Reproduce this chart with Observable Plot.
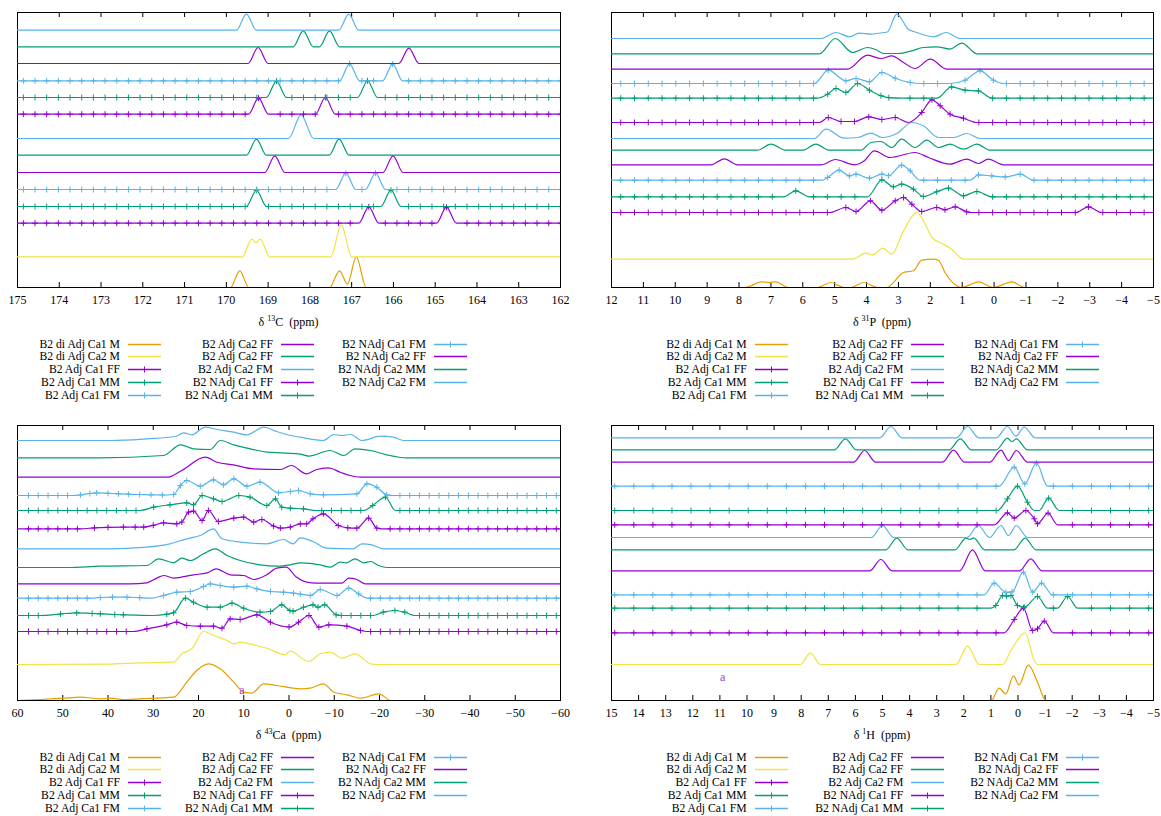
<!DOCTYPE html>
<html><head><meta charset="utf-8">
<script src="https://cdn.jsdelivr.net/npm/d3@7"></script>
<script src="https://cdn.jsdelivr.net/npm/@observablehq/plot@0.6"></script>
<style>
body{margin:0;background:#fff;font-family:"Liberation Serif","Times New Roman",serif;}
#page{position:relative;width:1161px;height:816px;overflow:hidden;background:#fff;}
.pl{position:absolute;}
.lgt{position:absolute;font-size:11.7px;line-height:13px;white-space:nowrap;color:#000;text-align:right;width:220px;}
.lgs{position:absolute;}
.ax{position:absolute;font-size:12px;line-height:14px;white-space:pre;text-align:center;width:300px;color:#000;}
.ax sup{font-size:8px;vertical-align:5px;line-height:0;}
</style></head><body><div id="page"></div>
<script>
// ---------- series (legend order) ----------
const seriesNames = ["B2 di Adj Ca1 M","B2 di Adj Ca2 M","B2 Adj Ca1 FF","B2 Adj Ca1 MM","B2 Adj Ca1 FM",
  "B2 Adj Ca2 FF","B2 Adj Ca2 FF","B2 Adj Ca2 FM","B2 NAdj Ca1 FF","B2 NAdj Ca1 MM","B2 NAdj Ca1 FM",
  "B2 NAdj Ca2 FF","B2 NAdj Ca2 MM","B2 NAdj Ca2 FM"];

// ---------- 13C ----------
const C13_ticks = [175,174,173,172,171,170,169,168,167,166,165,164,163,162];
const C13_offsets = [0,30.7,64.3,81,98,115,132.3,149,173.3,190,206.7,224,240.7,257.3];
const C13_spectra = [
 [[175,0],[169.9,0],[169.68,16.7],[169.46,0],[167.53,0],[167.29,16.7],[167.1,3.3],[166.89,30.7],[166.65,0],[162,0]],
 [[175,0],[169.62,0],[169.39,17.7],[169.29,14.3],[169.19,17.7],[168.96,0],[167.5,0],[167.25,32],[167.0,0],[162,0]],
 [[175,0],[166.83,0],[166.59,16.3],[166.35,0],[164.97,0],[164.73,16],[164.49,0],[162,0]],
 [[175,0],[169.52,0],[169.28,16.3],[169.04,0],[166.3,0],[166.06,16.3],[165.82,0],[162,0]],
 [[175,0],[167.38,0],[167.14,16.3],[166.9,0],[166.67,0],[166.43,16.3],[166.19,0],[162,0]],
 [[175,0],[169.08,0],[168.84,16.7],[168.6,0],[166.25,0],[166.01,16.7],[165.77,0],[162,0]],
 [[175,0],[169.52,0],[169.28,16],[169.04,0],[167.54,0],[167.3,16],[167.06,0],[162,0]],
 [[175,0],[168.51,0],[168.21,23.7],[167.91,0],[162,0]],
 [[175,0],[169.47,0],[169.23,16],[168.99,0],[167.87,0],[167.63,16.7],[167.39,0],[162,0]],
 [[175,0],[169.04,0],[168.8,16.3],[168.56,0],[166.86,0],[166.62,16.7],[166.38,0],[162,0]],
 [[175,0],[167.29,0],[167.05,17],[166.81,0],[166.26,0],[166.02,16.7],[165.78,0],[162,0]],
 [[175,0],[169.48,0],[169.24,16],[169.0,0],[165.87,0],[165.63,15.3],[165.39,0],[162,0]],
 [[175,0],[168.4,0],[168.16,16],[167.92,0],[167.77,0],[167.53,16],[167.29,0],[162,0]],
 [[175,0],[169.76,0],[169.52,16],[169.28,0],[167.31,0],[167.07,16],[166.83,0],[162,0]]
];

// ---------- 31P ----------
const P31_ticks = [12,11,10,9,8,7,6,5,4,3,2,1,0,-1,-2,-3,-4,-5];
const P31_offsets = [0,28.3,75,90.7,107.3,122.7,137.3,149,165,189.3,204,218.3,233.7,249];
const P31_spectra = [
 [[12,0],[7.8,0],[7.3,5.7],[7.05,5],[6.85,5.7],[6.45,0],[5.54,0],[5.12,5],[4.7,0],[4.5,0],[4.09,5],[3.65,0],[3.37,0],[2.84,15],[2.53,16.7],[2.27,27.3],[1.9,28.3],[1.74,27],[1.54,15],[1.17,1.7],[1.01,0],[0.49,5.7],[0.02,0],[-0.56,5.7],[-0.97,0],[-5,0]],
 [[12,0],[4.45,0],[4.02,6],[3.81,4.3],[3.49,11],[3.21,5],[2.84,28.3],[2.42,46.7],[2.16,35],[1.95,21.7],[1.64,15.7],[1.33,10],[1.05,1.5],[0.95,0],[-5,0]],
 [[12,0],[5.15,0],[4.65,5],[4.33,1],[3.88,11.7],[3.52,2.3],[3.1,11.7],[2.84,15],[2.58,8.3],[2.27,1],[1.8,5],[1.54,2.7],[1.22,5.7],[0.86,0.7],[0.7,0],[-2.55,0],[-2.96,5.7],[-3.38,0],[-5,0]],
 [[12,0],[6.6,0],[6.22,6],[5.8,0],[3.97,0],[3.52,17],[3.16,10],[2.9,12.7],[2.53,7.7],[2.22,0.3],[1.8,5],[1.43,8.7],[0.96,1],[0.54,5.3],[0.07,0],[-5,0]],
 [[12,0],[5.38,0],[5.22,2.7],[4.86,10],[4.54,4.3],[4.33,6],[3.91,2],[3.52,6],[3.31,4.5],[2.9,15],[2.63,9.3],[2.32,0],[0.75,0],[0.49,5.3],[0.07,4.3],[-0.35,3.3],[-0.82,6],[-1.24,0],[-5,0]],
 [[12,0],[8.88,0],[8.46,6],[8.05,0],[5.43,0],[4.98,5.3],[4.38,0],[4.07,4],[3.76,14],[3.26,7.3],[2.48,12.3],[2.06,7.3],[1.38,0.7],[0.86,5.7],[0.49,1.3],[0.18,5.7],[-0.3,0],[-5,0]],
 [[12,0],[7.42,0],[7.0,6],[6.53,0],[6.0,0],[5.59,6],[5.17,0],[4.18,0],[3.86,7.7],[3.55,8.7],[3.21,2.7],[2.9,11],[2.48,2.7],[2.11,10],[1.74,2.7],[1.38,6],[0.96,1],[0.54,6],[0.12,0],[-5,0]],
 [[12,0],[5.64,0],[5.27,9.3],[4.7,0.3],[4.28,1],[3.86,5.3],[3.52,1],[3.05,5],[2.58,16],[2.22,12.7],[1.74,1],[1.27,1],[0.86,5],[0.44,0],[-5,0]],
 [[12,0],[5.48,0],[5.2,5],[4.8,1],[4.38,1],[3.93,5.7],[3.52,3],[3.1,5],[2.69,0],[2.27,10],[1.95,22.7],[1.69,16.7],[1.38,8.3],[0.96,4.3],[0.54,0],[-5,0]],
 [[12,0],[5.54,0],[5.22,4],[4.96,9.7],[4.65,5.7],[4.28,14.7],[3.91,8],[3.55,2.5],[3.3,0.5],[2.9,0],[1.8,0],[1.33,11.3],[0.91,8],[0.49,7.3],[0.07,0],[-5,0]],
 [[12,0],[5.64,0],[5.2,13.3],[4.65,2.7],[4.33,5],[3.91,1.7],[3.52,11],[3.1,5.3],[2.63,1],[2.3,0],[1.38,0],[0.91,3.3],[0.44,12.7],[0.02,3.3],[-0.3,0],[-5,0]],
 [[12,0],[4.6,0],[3.97,14],[3.55,10.7],[3.21,13.3],[2.84,6.7],[2.48,0.7],[2.0,10],[1.48,0],[-5,0]],
 [[12,0],[5.48,0],[4.98,15.3],[4.44,1.3],[3.97,6.3],[3.7,4],[3.47,0.3],[3.0,0.3],[2.58,3],[2.22,6.3],[1.8,7],[1.38,4.7],[1.01,10.7],[0.54,0],[-5,0]],
 [[12,0],[5.43,0],[4.96,6],[4.54,1.7],[4.23,5.3],[3.86,4.3],[3.58,5.5],[3.35,6.5],[3.05,24.3],[2.69,9.3],[2.42,6],[1.9,1.7],[1.5,6],[1.07,0],[-5,0]]
];

// ---------- 43Ca ----------
const Ca43_ticks = [60,50,40,30,20,10,0,-10,-20,-30,-40,-50,-60];
const Ca43_offsets = [0,36,69,85,102.3,116.7,133,151.7,171.7,190,205,223.3,242.7,260];
const Ca43_spectra = [
 [[60,0],[55,1],[49.8,2.3],[46.1,3.3],[41.7,1.7],[39.5,2.3],[36.6,1],[32.9,1.7],[25.5,3.3],[22.6,18.3],[20.4,30],[17.8,36.7],[15.2,31.7],[12.2,18.3],[10,8.3],[8.2,7.3],[5.6,16.7],[2.7,15],[-1,12.3],[-2.5,11.7],[-4.7,12.3],[-7.6,16.7],[-9.9,8.3],[-12.8,5.7],[-15.8,2.3],[-19.9,6.7],[-22.5,0],[-60,0]],
 [[60,0],[40.3,0.3],[32.9,1.7],[25.5,2.3],[23.7,10.7],[21.5,15.7],[18.9,33],[16.7,29],[13.7,24],[12.2,20.7],[10.8,22.3],[7.8,19.7],[4.9,16.3],[0.8,9.7],[-0.2,13.3],[-4.4,3],[-6.9,10.7],[-9.1,12.3],[-11.7,6.3],[-14.6,10.7],[-18,0.7],[-19.4,0],[-60,0]],
 [[60,0],[34.4,0],[31.4,2.7],[27,6.7],[24.8,9.3],[22.6,6],[19.6,5.3],[16.7,5.3],[14.8,3.3],[13,12.7],[10.8,12],[7.1,16.7],[4.1,9.3],[0,4.5],[-2.1,9.3],[-4.4,16],[-6.6,4.3],[-8.8,6.7],[-12.8,5.3],[-15.8,1],[-17.2,0],[-60,0]],
 [[60,0],[55,0],[50.5,1.5],[46.9,2.7],[43.5,2],[41.7,1.7],[38.5,1],[36.6,0.7],[29.9,0],[27,1.3],[25.5,2.7],[22.9,17.3],[21.1,13.3],[18.1,8.3],[15.2,8.3],[12.6,12.3],[10,7.3],[6.4,3.3],[4.1,4],[1.6,10.7],[-0.2,5],[-0.9,4.3],[-3.2,8.3],[-5.3,10.7],[-6.4,8.3],[-7.9,10.7],[-10.4,0.7],[-11.5,0],[-18.6,0],[-20.8,3.3],[-23.4,5],[-25.6,3.3],[-27.8,0],[-60,0]],
 [[60,0],[44,0],[41.7,0.7],[39,1],[35.8,1],[33,0.5],[30.7,0],[27.7,2.7],[24.8,6],[21.8,6.7],[18.9,11.7],[17.4,14.3],[15.2,12.7],[12.2,11],[9.3,12],[7.1,9.3],[4.1,6.7],[1.2,6],[-1,5],[-2.5,4],[-4.7,2.7],[-6.9,8.7],[-10.6,2.7],[-13.2,10],[-15.4,4.3],[-17.2,0],[-60,0]],
 [[60,0],[35.1,0],[31.4,1],[29.2,5.7],[27.7,8.3],[25.5,5.7],[21.1,9],[18.1,11],[16.1,15],[13,9],[10,8.3],[7.8,4.3],[4.9,9],[2.7,15.7],[0.6,16.7],[-1.6,6.7],[-3.9,1.7],[-6,0.7],[-11.7,0.7],[-13.2,5.7],[-15,4.3],[-16.8,0],[-60,0]],
 [[60,0],[49,0],[41.7,1.3],[31.4,2],[28.8,8.7],[25.5,4.7],[23.7,9.3],[21.8,7],[18.9,13.7],[16.3,18.7],[13.7,12],[10.8,7],[6.4,2.7],[2.7,1.3],[-0.3,2.7],[-2.5,4.7],[-6.9,2.7],[-9.1,0.3],[-11.3,5.3],[-12.7,4.7],[-14.6,8.7],[-16.5,4.7],[-18.1,6],[-19.8,2],[-21.6,0],[-60,0]],
 [[60,0],[40,0],[31.4,1.7],[26.3,5],[22.6,10],[19.6,13.3],[16.7,20],[14.8,10],[10.8,6.7],[4.9,5],[1.2,9.3],[-0.9,5],[-2.5,11],[-5.3,7.3],[-8.3,0.7],[-14.2,0],[-16.1,5],[-18.3,4],[-20.9,0],[-60,0]],
 [[60,0],[46,0],[43,1],[40,1.5],[36.6,1.7],[34,1.7],[32.1,1.7],[30,3.5],[27.7,6],[24.8,5],[23.7,6.7],[22.2,16.7],[21.1,17.7],[19.2,8.3],[17.8,18.3],[15.6,7.3],[12.2,10.7],[10,11.7],[7.8,6.7],[6,9.3],[3.4,2.7],[1.9,0.7],[-0.3,1.7],[-2.5,5],[-3.9,5],[-5.3,10],[-7.6,15],[-10.9,3.3],[-13,1],[-15,0.7],[-17.6,10.7],[-19.4,0.7],[-20.5,0],[-60,0]],
 [[60,0],[32.9,0],[29.9,3.3],[26.3,5.7],[22.6,7.7],[21.1,5.7],[19.2,15],[16.7,11.7],[14.8,9],[11.1,15],[8.6,13.3],[4.9,5],[3,11.7],[1.6,3.3],[-0.3,2.3],[-3.2,1.7],[-6,0],[-16.5,0],[-18.5,5],[-21.3,13.3],[-23.5,0],[-60,0]],
 [[60,0],[48,0],[46.1,0.5],[44,2],[42.5,2.7],[40,2.2],[37.7,1.7],[35.5,1.3],[33,1],[30.5,0.7],[28,0.5],[25.5,1],[24,10],[22.6,15],[19.6,9.3],[16.7,15.7],[14.5,10.7],[12.2,16.7],[9.3,9.3],[6.4,13.3],[2.3,2.7],[-0.3,4],[-2.1,5],[-4.7,1.7],[-7.6,0.7],[-15,1.7],[-17.2,11.7],[-19.4,8.3],[-21.6,0.7],[-23.1,0],[-60,0]],
 [[60,0],[26.8,0],[23.7,6.7],[18.5,20],[15.9,15],[12.2,12.3],[7.8,8.3],[1.9,7.7],[-0.5,11.7],[-3.9,3.3],[-6.1,7.7],[-8.7,9.3],[-11.3,5],[-13.5,1.7],[-15.8,0],[-60,0]],
 [[60,0],[42,0],[27.7,2.3],[24,13],[21.1,9],[17.4,8.3],[15.2,17.3],[12.2,13],[9.3,9.7],[4.9,5.7],[1.9,5],[-2.1,4],[-4.4,1.7],[-9.1,7.3],[-12.1,2.3],[-14.6,9],[-18,7.3],[-21.6,3],[-26,0],[-60,0]],
 [[60,0],[39.5,0],[31.4,1.7],[25.1,4],[23.3,7.7],[21.5,5.7],[18.5,13.3],[15.9,11],[12.2,8.3],[9.3,5.7],[5.6,13.3],[2.7,9],[-0.3,5],[-2.5,3.3],[-7.6,0],[-9.9,6],[-11.7,5],[-13.6,6],[-16.1,0],[-20.2,4.3],[-23.1,3.3],[-25.3,0],[-60,0]]
];
const Ca43_notes = [{x: 10.4, y: 10, text: "a"}];

// ---------- 1H ----------
const H1_ticks = [15,14,13,12,11,10,9,8,7,6,5,4,3,2,1,0,-1,-2,-3,-4,-5];
const H1_offsets = [0,36,67.7,92.3,105.7,129.7,150.7,163,175.7,190,214.3,238.3,250.7,262.7];
const H1_spectra = [
 [[15,0],[0.98,0],[0.7,12.3],[0.45,6.7],[0.17,24.3],[-0.04,15.7],[-0.38,35.7],[-0.72,18.3],[-1.03,0],[-5,0]],
 [[15,0],[8.03,0],[7.66,11.7],[7.29,0],[2.29,0],[1.86,18.3],[1.43,0],[0.57,0],[0.26,14],[-0.26,31.7],[-0.6,4],[-0.72,0],[-5,0]],
 [[15,0],[0.51,0],[0.14,13.3],[-0.2,24.7],[-0.54,2.3],[-0.72,4],[-0.97,11.7],[-1.31,0],[-5,0]],
 [[15,0],[1.0,0],[0.82,2.7],[0.57,12.7],[0.42,12],[0.26,12.7],[0.02,2.7],[-0.23,1],[-0.72,11.7],[-1.09,0],[-1.45,0],[-1.83,11.7],[-2.2,0],[-5,0]],
 [[15,0],[1.25,0],[0.88,11.7],[0.45,2.5],[0.22,3],[-0.2,22.7],[-0.54,2.7],[-0.87,11.7],[-1.27,0],[-5,0]],
 [[15,0],[5.47,0],[5.06,11.3],[4.65,0],[2.15,0],[1.68,21],[1.21,0],[-0.06,0],[-0.47,12],[-0.88,0],[-5,0]],
 [[15,0],[4.88,0],[4.47,11.7],[4.06,0],[2.33,0],[1.92,11.7],[1.78,10.3],[1.64,12],[1.23,0],[0.15,0],[-0.26,11.7],[-0.67,0],[-5,0]],
 [[15,0],[5.41,0],[5.0,12],[4.59,0],[1.88,0],[1.47,12],[1.05,0],[0.63,12],[0.35,2],[0.06,12],[-0.35,0],[-5,0]],
 [[15,0],[0.88,0],[0.39,12],[0.14,6.7],[-0.29,14.3],[-0.6,6],[-0.72,1],[-1.11,11.7],[-1.46,0],[-5,0]],
 [[15,0],[0.76,0],[0.39,11.7],[0.02,24.3],[-0.35,8.3],[-0.6,0],[-0.78,0],[-1.13,12.3],[-1.52,0],[-5,0]],
 [[15,0],[0.7,0],[0.14,19],[-0.25,2.3],[-0.68,23],[-1.09,0],[-5,0]],
 [[15,0],[6.07,0],[5.66,11.7],[5.25,0],[2.79,0],[2.38,12],[1.97,0],[1.04,0],[0.63,12],[0.35,1.7],[0.06,11.7],[-0.35,0],[-5,0]],
 [[15,0],[6.78,0],[6.37,11],[5.96,0],[2.54,0],[2.13,11],[1.72,0],[0.8,0],[0.39,11.7],[0.22,8.3],[0.06,11],[-0.35,0],[-5,0]],
 [[15,0],[5.1,0],[4.69,11.3],[4.28,0],[2.27,0],[1.86,11.3],[1.45,0],[0.8,0],[0.39,11.3],[0.08,1.7],[-0.23,10.7],[-0.63,0],[-5,0]]
];
const H1_notes = [{x: 10.9, y: 23.3, text: "a"}];

// ---------- styles ----------
const seriesColors = ["#e69f00","#f0e442","#9400d3","#009e73","#56b4e9","#9400d3","#009e73","#56b4e9",
  "#9400d3","#009e73","#56b4e9","#9400d3","#009e73","#56b4e9"];
const seriesPoints = [false,false,true,true,true,false,false,false,true,true,true,false,false,false];
const FONT = "'Liberation Serif','Times New Roman',serif";
const FH = 275;
// gnuplot-like "+" point of fixed size
const plusSymbol = {draw(ctx) { ctx.moveTo(-3, 0); ctx.lineTo(3, 0); ctx.moveTo(0, -3); ctx.lineTo(0, 3); }};

// markers: regular pointinterval on flat stretches, plus the read points on the features
function markerPoints(pts, start, step, xEnd) {
  const out = [];
  for (let k = 0; ; k++) {
    const x = start - k * step;
    if (x < xEnd) break;
    for (let j = 0; j < pts.length - 1; j++) {
      const [xa, ya] = pts[j], [xb, yb] = pts[j + 1];
      if (x <= xa && x >= xb) { if (ya === 0 && yb === 0) out.push([x, 0]); break; }
    }
  }
  pts.forEach(p => { if (p[1] !== 0) out.push(p); });
  return out;
}

function panel(cfg) {
  const marks = [Plot.frame({stroke: "#000", strokeWidth: 1})];
  marks.push(Plot.ruleX(cfg.ticks, {x: d => d, y1: 0, y2: 5, stroke: "#000", strokeWidth: 1}));
  marks.push(Plot.ruleX(cfg.ticks, {x: d => d, y1: FH - 5, y2: FH, stroke: "#000", strokeWidth: 1}));
  marks.push(Plot.axisX(cfg.ticks, {tickSize: 0, tickPadding: 8, fontSize: 12, label: null}));
  cfg.spectra.forEach((pts, i) => {
    const data = pts.map(([x, y]) => ({x, y: y + cfg.offsets[i]}));
    marks.push(Plot.line(data, {x: "x", y: "y", stroke: seriesColors[i], strokeWidth: 1.2, curve: "monotone-x", clip: true}));
    if (seriesPoints[i]) {
      const mk = markerPoints(pts, cfg.markStart, cfg.markStep, cfg.domain[1]).map(([x, y]) => ({x, y: y + cfg.offsets[i]}));
      marks.push(Plot.dot(mk, {x: "x", y: "y", symbol: plusSymbol, r: 3, fill: "none", stroke: seriesColors[i], strokeWidth: 1, clip: true}));
    }
  });
  if (cfg.notes) marks.push(Plot.text(cfg.notes, {x: "x", y: "y", text: "text", fill: "#a040d8", fontSize: 12}));
  const svg = Plot.plot({
    width: cfg.w, height: 320, marginLeft: cfg.ml, marginRight: cfg.mr, marginTop: 12, marginBottom: 33,
    x: {domain: cfg.domain, label: null},
    y: {domain: [0, FH], axis: null, label: null},
    style: {fontFamily: FONT, fontSize: "12px", background: "transparent", color: "#000"},
    marks
  });
  svg.classList.add("pl");
  svg.style.left = cfg.left + "px";
  svg.style.top = cfg.top + "px";
  return svg;
}

const page = document.getElementById("page");

const panels = [
  {left: 0, top: 0, w: 580, ml: 17, mr: 20, domain: [175, 162], ticks: C13_ticks, offsets: C13_offsets, spectra: C13_spectra, markStart: 174.86, markStep: 0.2795,
   axis: ["13", "C"], axisY: 322, legendX: [120, 273, 426], legendY: 344},
  {left: 590, top: 0, w: 571, ml: 21, mr: 8, domain: [12, -5], ticks: P31_ticks, offsets: P31_offsets, spectra: P31_spectra, markStart: 11.71, markStep: 0.432,
   axis: ["31", "P"], axisY: 322, legendX: [746.7, 903.3, 1058.3], legendY: 344},
  {left: 0, top: 413, w: 580, ml: 17, mr: 20, domain: [60, -60], ticks: Ca43_ticks, offsets: Ca43_offsets, spectra: Ca43_spectra, markStart: 57.57, markStep: 2.16, notes: Ca43_notes,
   axis: ["43", "Ca"], axisY: 735, legendX: [120, 273, 426], legendY: 757},
  {left: 590, top: 413, w: 571, ml: 21, mr: 8, domain: [15, -5], ticks: H1_ticks, offsets: H1_offsets, spectra: H1_spectra, markStart: 14.88, markStep: 0.7036, notes: H1_notes,
   axis: ["1", "H"], axisY: 735, legendX: [746.7, 903.3, 1058.3], legendY: 757}
];

panels.forEach(cfg => {
  page.appendChild(panel(cfg));
  const fx0 = cfg.left + cfg.ml, fx1 = cfg.left + cfg.w - cfg.mr;
  const ax = document.createElement("div");
  ax.className = "ax";
  ax.style.left = ((fx0 + fx1) / 2 - 150) + "px";
  ax.style.top = (cfg.axisY - 7) + "px";
  ax.innerHTML = "δ <sup>" + cfg.axis[0] + "</sup>" + cfg.axis[1] + "  (ppm)";
  page.appendChild(ax);
  seriesNames.forEach((name, i) => {
    const col = i < 5 ? 0 : (i < 10 ? 1 : 2);
    const row = i < 5 ? i : (i < 10 ? i - 5 : i - 10);
    const xr = cfg.legendX[col];
    const yc = cfg.legendY + row * 12.9;
    const t = document.createElement("div");
    t.className = "lgt";
    t.textContent = name;
    t.style.left = (xr - 220) + "px";
    t.style.top = (yc - 6.5) + "px";
    page.appendChild(t);
    const ns = "http://www.w3.org/2000/svg";
    const s = document.createElementNS(ns, "svg");
    s.setAttribute("width", 34); s.setAttribute("height", 13);
    s.setAttribute("class", "lgs");
    s.style.left = (xr + 8) + "px";
    s.style.top = (yc - 6.5) + "px";
    const ln = document.createElementNS(ns, "line");
    ln.setAttribute("x1", 0); ln.setAttribute("x2", 33); ln.setAttribute("y1", 6.5); ln.setAttribute("y2", 6.5);
    ln.setAttribute("stroke", seriesColors[i]); ln.setAttribute("stroke-width", 1.3);
    s.appendChild(ln);
    if (seriesPoints[i]) {
      const p = document.createElementNS(ns, "path");
      p.setAttribute("d", "M16.5,3.5V9.5M13.5,6.5H19.5");
      p.setAttribute("stroke", seriesColors[i]); p.setAttribute("stroke-width", 1);
      s.appendChild(p);
    }
    page.appendChild(s);
  });
});
</script></body></html>
